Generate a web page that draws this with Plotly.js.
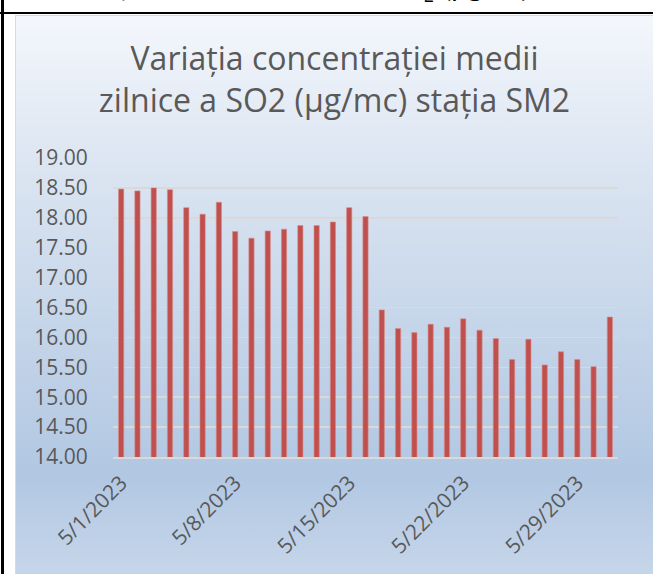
<!DOCTYPE html>
<html>
<head>
<meta charset="utf-8">
<script src="https://cdn.plot.ly/plotly-3.0.1.min.js"></script>
<style>
  html, body { margin: 0; padding: 0; width: 653px; height: 574px; overflow: hidden; background: #ffffff; }
  #chartbg {
    position: absolute; left: 15px; top: 15px; width: 638px; height: 559px;
    box-sizing: border-box; border-left: 1px solid #d9d9d9; border-top: 1px solid #d9d9d9;
    background: linear-gradient(to bottom, #f4f7fc 0%, #dde6f2 25%, #b1c7e2 82%, #c6d6ea 100%);
  }
  #vline { position: absolute; left: 1px; top: 0; width: 3px; height: 574px; background: #000; }
  #hline { position: absolute; left: 0; top: 12px; width: 653px; height: 2px; background: #000; }
  .doc { position: absolute; top: -29px; font-family: "Liberation Serif", serif; font-size: 29px; line-height: 29px; color: #000; white-space: nowrap; }
  #plot { position: absolute; left: 0; top: 0; width: 653px; height: 574px; }
</style>
</head>
<body>
<div class="doc" style="right:496px;">concentrației</div>
<div class="doc" style="left:209px;">medii zilnice a SO<sub style="font-size:20px;">2</sub> (µg/m³)</div>
<div id="vline"></div>
<div id="hline"></div>
<div id="chartbg"></div>
<div id="plot"></div>
<script>
const dates = ["5/1/2023","5/2/2023","5/3/2023","5/4/2023","5/5/2023","5/6/2023","5/7/2023","5/8/2023",
  "5/9/2023","5/10/2023","5/11/2023","5/12/2023","5/13/2023","5/14/2023","5/15/2023","5/16/2023",
  "5/17/2023","5/18/2023","5/19/2023","5/20/2023","5/21/2023","5/22/2023","5/23/2023","5/24/2023",
  "5/25/2023","5/26/2023","5/27/2023","5/28/2023","5/29/2023","5/30/2023","5/31/2023"];
const so2 = [18.48,18.45,18.50,18.47,18.17,18.06,18.26,17.77,17.66,17.78,17.81,17.87,17.87,17.93,18.17,18.02,
  16.46,16.15,16.08,16.22,16.17,16.31,16.12,15.98,15.63,15.97,15.54,15.76,15.63,15.51,16.34];
const xTicks = ["5/1/2023","5/8/2023","5/15/2023","5/22/2023","5/29/2023"];
const yTicks = [14,14.5,15,15.5,16,16.5,17,17.5,18,18.5,19];
const titleText = "Variația concentrației medii<br>zilnice a SO2 (µg/mc) stația SM2";

const trace = {
  type: 'bar', x: dates, y: so2,
  marker: { color: '#c0504d', line: { color: '#d88a88', width: 0.6 } },
  hoverinfo: 'x+y'
};
const layout = {
  width: 653, height: 574,
  paper_bgcolor: 'rgba(0,0,0,0)', plot_bgcolor: 'rgba(0,0,0,0)',
  margin: { l: 113, r: 35, t: 158, b: 117 },
  bargap: 0.68,
  showlegend: false,
  title: {
    text: titleText,
    font: { family: 'Open Sans', size: 32, color: '#595959' },
    x: 334.5/653, xanchor: 'center', xref: 'container',
    y: 1 - 70/574, yanchor: 'top', yref: 'container'
  },
  xaxis: {
    type: 'category',
    tickmode: 'array', tickvals: xTicks, ticktext: xTicks,
    tickangle: -45,
    ticks: 'outside', ticklen: 4, tickcolor: 'rgba(0,0,0,0)',
    tickfont: { family: 'Open Sans', size: 21, color: '#595959' },
    showgrid: false, showline: true, linecolor: '#d9d9d9', linewidth: 1.5,
    zeroline: false
  },
  yaxis: {
    range: [14, 19], tickmode: 'array', tickvals: yTicks,
    tickformat: '.2f',
    ticks: 'outside', ticklen: 20, tickcolor: 'rgba(0,0,0,0)',
    tickfont: { family: 'Open Sans', size: 21, color: '#595959' },
    showgrid: true, gridcolor: '#d9d9d9', gridwidth: 1.5,
    zeroline: false, showline: false
  }
};
Plotly.newPlot('plot', [trace], layout, { displayModeBar: false, staticPlot: true });
</script>
</body>
</html>
